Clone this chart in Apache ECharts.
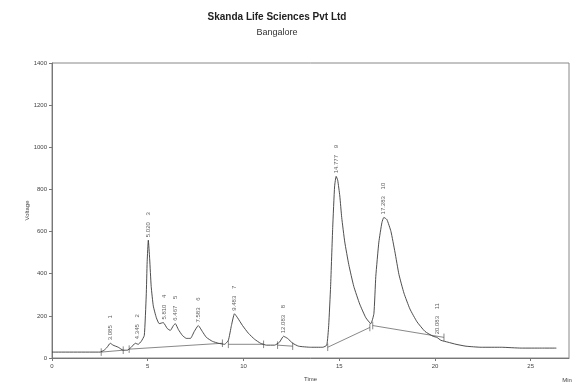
<!DOCTYPE html>
<html>
<head>
<meta charset="utf-8">
<script src="https://cdn.jsdelivr.net/npm/echarts@6/dist/echarts.min.js"></script>
<style>html,body{margin:0;padding:0;background:#fff;}#c{width:576px;height:387px;}</style>
</head>
<body>
<div id="c"></div>
<script>
// Chromatogram trace: [time (min), voltage]
const traceTime = [0.00,2.51,2.72,2.88,3.04,3.19,3.46,3.72,3.93,4.14,4.35,4.50,4.66,4.82,4.92,4.97,5.03,5.10,5.18,5.29,5.45,5.60,5.81,6.02,6.18,6.34,6.44,6.60,6.81,7.02,7.23,7.43,7.64,7.85,8.06,8.38,8.69,9.01,9.21,9.37,9.53,9.69,9.95,10.26,10.58,10.89,11.20,11.62,11.88,12.09,12.30,12.57,12.88,13.51,14.14,14.35,14.45,14.55,14.66,14.76,14.84,14.92,15.03,15.13,15.29,15.50,15.76,16.07,16.39,16.65,16.81,16.91,17.07,17.23,17.33,17.49,17.70,17.91,18.12,18.38,18.69,19.06,19.48,19.90,20.10,20.31,20.68,21.10,21.62,22.41,23.46,24.50,25.55,26.34];
const traceVolt = [28,28,37,51,70,61,51,37,37,51,70,65,79,107,294,457,559,471,340,247,191,163,168,140,131,154,163,135,107,93,93,126,154,126,98,79,70,65,84,154,210,191,154,117,89,70,61,61,75,103,93,70,56,51,51,61,154,340,620,816,862,844,769,667,550,443,340,256,191,163,210,387,550,643,667,657,601,503,396,308,233,172,126,103,98,84,75,65,56,51,51,47,47,47];

// Integration baselines (start/end of each segment)
const baseStartTime = [2.57,4.03,9.21,11.78,14.40,16.75];
const baseStartVolt = [28,42,65,61,51,154];
const baseEndTime   = [3.72,8.90,11.05,12.57,16.60,20.47];
const baseEndVolt   = [37,70,65,56,145,98];

// Peak annotations
const peakNo   = ['1','2','3','4','5','6','7','8','9','10','11'];
const peakRT   = ['3.085','4.345','5.020','5.810','6.467','7.583','9.483','12.083','14.777','17.283','20.083'];
const peakTime = [3.04,4.45,5.03,5.85,6.44,7.64,9.53,12.09,14.84,17.33,20.10];
const peakVolt = [70,75,559,168,163,154,210,103,862,667,98];

const yTicks = [0,200,400,600,800,1000,1200,1400];
const xTicks = [0,5,10,15,20,25];

const trace = traceTime.map((t,i)=>[t,traceVolt[i]]);
const baseData = [];
const tickLen = 18;
baseStartTime.forEach((t,i)=>{
  baseData.push([t,baseStartVolt[i]],[baseEndTime[i],baseEndVolt[i]],[null,null]);
  baseData.push([t,baseStartVolt[i]-tickLen],[t,baseStartVolt[i]+tickLen],[null,null]);
  baseData.push([baseEndTime[i],baseEndVolt[i]-tickLen],[baseEndTime[i],baseEndVolt[i]+tickLen],[null,null]);
});
const peaks = peakTime.map((t,i)=>({value:[t,peakVolt[i]], rt:peakRT[i], no:peakNo[i]}));

const FONT = 'Liberation Sans';
const chart = echarts.init(document.getElementById('c'), null, {renderer:'canvas'});
chart.setOption({
  animation:false,
  backgroundColor:'#fff',
  grid:{left:52,right:7,top:63,bottom:24,show:true,borderColor:'#888',borderWidth:1},
  xAxis:{
    type:'value', min:0, max:27, interval:5,
    name:'Time', nameLocation:'middle', nameGap:18, nameMoveOverlap:false,
    nameTextStyle:{fontFamily:FONT,fontSize:6,color:'#444'},
    axisLine:{show:true,lineStyle:{color:'#777',width:1}},
    axisTick:{show:true,length:3,lineStyle:{color:'#777'}},
    axisLabel:{fontFamily:FONT,fontSize:6,color:'#444',margin:5,showMaxLabel:false,
      formatter:v=>xTicks.includes(v)?String(v):''},
    splitLine:{show:false}
  },
  yAxis:{
    type:'value', min:0, max:1400, interval:200,
    name:'Voltage', nameLocation:'middle', nameGap:22, nameRotate:90, nameMoveOverlap:false,
    nameTextStyle:{fontFamily:FONT,fontSize:6,color:'#444'},
    axisLine:{show:true,lineStyle:{color:'#777',width:1}},
    axisTick:{show:true,length:3,lineStyle:{color:'#777'}},
    axisLabel:{fontFamily:FONT,fontSize:6,color:'#444',margin:5,
      formatter:v=>yTicks.includes(v)?String(v):''},
    splitLine:{show:false}
  },
  graphic:[
    {type:'text',x:277,y:17,style:{text:'Skanda Life Sciences Pvt Ltd',font:'bold 10px '+FONT,fill:'#222',textAlign:'center',textVerticalAlign:'middle'}},
    {type:'text',x:277,y:33,style:{text:'Bangalore',font:'9px '+FONT,fill:'#333',textAlign:'center',textVerticalAlign:'middle'}},
    {type:'text',x:567,y:380,style:{text:'Min',font:'6px '+FONT,fill:'#444',textAlign:'center',textVerticalAlign:'middle'}}
  ],
  series:[
    {type:'line', data:trace, showSymbol:false, smooth:0.15,
     lineStyle:{color:'#3a3a3a',width:0.9}, z:3},
    {type:'line', data:baseData, showSymbol:false, connectNulls:false,
     lineStyle:{color:'#555',width:0.7}, z:2},
    {type:'scatter', data:peaks, symbolSize:0, z:4,
     label:{show:true, position:'top', distance:3, rotate:90, align:'left', verticalAlign:'middle',
       fontFamily:FONT, fontSize:6, color:'#333',
       formatter:p=>p.data.rt+'    '+p.data.no}}
  ]
});
</script>
</body>
</html>
